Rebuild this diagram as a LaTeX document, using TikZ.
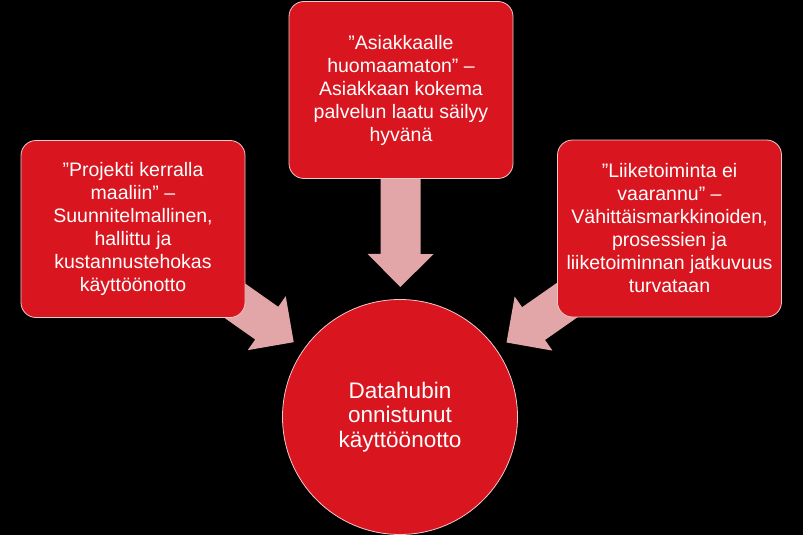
\documentclass[tikz,border=0pt]{standalone}
\usepackage{fontspec}
\setmainfont{Liberation Sans}
\usetikzlibrary{calc}
\pgfdeclarelayer{bg}
\pgfdeclarelayer{back}
\pgfsetlayers{bg,back,main}
\definecolor{boxred}{HTML}{D9161F}
\definecolor{arrowpink}{HTML}{E2A6A8}
\definecolor{edgepink}{HTML}{F0C8C8}
\tikzset{
  idea/.style={draw=edgepink, line width=0.8pt, fill=boxred, rounded corners=15pt,
    minimum width=224pt, minimum height=177pt, inner sep=0pt, align=center,
    text=white, font=\fontsize{19.5}{23}\selectfont},
  hubnode/.style={circle, draw=edgepink, line width=0.8pt, fill=boxred,
    minimum size=235pt, inner sep=0pt, align=center, text=white,
    font=\fontsize{22.5}{24.5}\selectfont},
  bigarrow/.style={fill=arrowpink, draw=none}
}
\newcommand{\fatarrow}[2]{%
  \path let \p1=(#1) in coordinate (S) at (\p1)
    coordinate (T) at ($(hub.center)!130pt!(#1)$)
    coordinate (B) at ($(T)!33pt!(S)$);
  \fill[bigarrow] (T) -- ($(B)!33pt!90:(T)$) -- ($(B)!20pt!90:(T)$)
    -- ($(S)!20pt!90:(T)$) -- ($(S)!20pt!-90:(T)$) -- ($(B)!20pt!-90:(T)$)
    -- ($(B)!33pt!-90:(T)$) -- cycle;%
}
\begin{document}
\begin{tikzpicture}[x=1pt,y=-1pt]
\begin{pgfonlayer}{bg}
\fill[black] (0,0) rectangle (803,535);
\end{pgfonlayer}
\useasboundingbox (0,0) rectangle (803,535);
\node[hubnode] (hub) at (400,417) {Datahubin\\onnistunut\\käyttöönotto};
\node[idea] (lbox) at (133,229) {”Projekti kerralla\\maaliin” –\\Suunnitelmallinen,\\hallittu ja\\kustannustehokas\\käyttöönotto};
\node[idea] (tbox) at (401,90) {”Asiakkaalle\\huomaamaton” –\\Asiakkaan kokema\\palvelun laatu säilyy\\hyvänä};
\node[idea] (rbox) at (669.5,228.5) {”Liiketoiminta ei\\vaarannu” –\\Vähittäismarkkinoiden,\\prosessien ja\\liiketoiminnan jatkuvuus\\turvataan};
\begin{pgfonlayer}{back}
\fatarrow{lbox.center}{}
\fatarrow{tbox.center}{}
\fatarrow{rbox.center}{}
\end{pgfonlayer}
\end{tikzpicture}
\end{document}
